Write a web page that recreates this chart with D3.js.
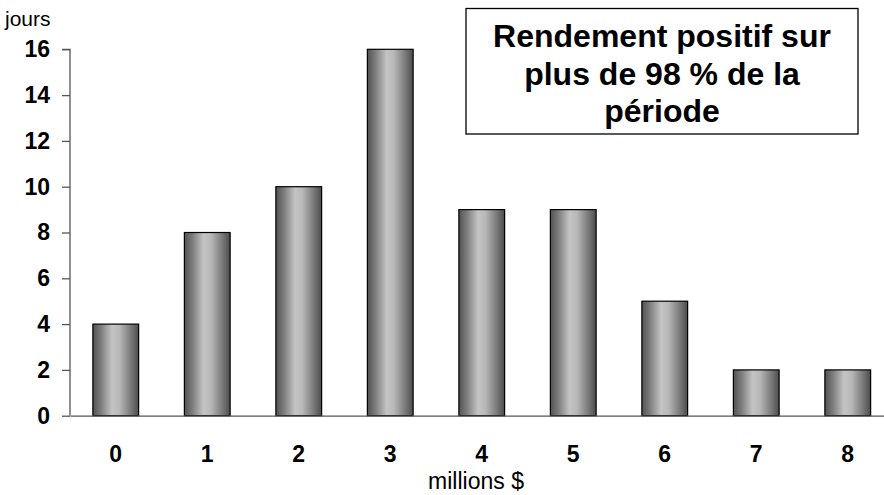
<!DOCTYPE html>
<html>
<head>
<meta charset="utf-8">
<script src="https://cdn.jsdelivr.net/npm/d3@7"></script>
<style>
html,body{margin:0;padding:0;background:#fff;}
svg{display:block;font-family:"Liberation Sans",Arial,sans-serif;}
</style>
</head>
<body>
<svg id="chart" width="884" height="495"></svg>
<script>
const categories = ["0","1","2","3","4","5","6","7","8"];
const values = [4, 8, 10, 16, 9, 9, 5, 2, 2];
const yTicks = [0, 2, 4, 6, 8, 10, 12, 14, 16];
const yTitle = "jours";
const xTitle = "millions $";
const titleLines = ["Rendement positif sur", "plus de 98 % de la", "période"];

(function () {
const svg = d3.select("#chart");
const mLeft = 70, mRight = 893.5, mTop = 49.3, mBottom = 415.7;

const x = d3.scaleBand().domain(categories).range([mLeft, mRight]).paddingInner(0.5).paddingOuter(0.25);
const y = d3.scaleLinear().domain([0, 16]).range([mBottom, mTop]);

const defs = svg.append("defs");
const grad = defs.append("linearGradient").attr("id","barGrad").attr("x1","0").attr("x2","1").attr("y1","0").attr("y2","0");
[[0,"#525252"],[0.18,"#7e7e7e"],[0.42,"#c4c4c4"],[0.58,"#b8b8b8"],[0.85,"#747474"],[1,"#4c4c4c"]]
  .forEach(([o,c]) => grad.append("stop").attr("offset",o).attr("stop-color",c));

// bars
svg.append("g").selectAll("rect").data(values).join("rect")
  .attr("x", (d,i) => x(categories[i]))
  .attr("y", d => y(d))
  .attr("width", x.bandwidth())
  .attr("height", d => y(0) - y(d))
  .attr("fill", "url(#barGrad)")
  .attr("stroke", "#000")
  .attr("stroke-width", 1.2);

// y axis
const yAxis = svg.append("g").attr("transform", `translate(${mLeft},0)`)
  .call(d3.axisLeft(y).tickValues(yTicks).tickSize(8).tickPadding(12).tickFormat(d3.format("d")));
yAxis.select(".domain").attr("stroke","#555").attr("stroke-width",1.3).attr("d", `M-8,${mTop}H0V${mBottom}`);
yAxis.selectAll(".tick line").attr("stroke","#555").attr("stroke-width",1.3);
yAxis.selectAll(".tick text").attr("font-size",23).attr("font-weight","bold").attr("fill","#000")
  .attr("font-family","Liberation Sans, Arial, sans-serif");

// x axis
const xAxis = svg.append("g").attr("transform", `translate(0,${mBottom})`)
  .call(d3.axisBottom(x).tickSize(0).tickPadding(30));
xAxis.select(".domain").attr("stroke","#555").attr("stroke-width",1.3);
xAxis.selectAll(".tick text").attr("font-size",23).attr("font-weight","bold").attr("fill","#000")
  .attr("font-family","Liberation Sans, Arial, sans-serif");

// axis titles
svg.append("text").attr("x", 5).attr("y", 26).attr("font-size", 21).text(yTitle);
svg.append("text").attr("x", 476).attr("y", 489).attr("text-anchor","middle").attr("font-size", 23).text(xTitle);

// title box
svg.append("rect").attr("x", 466).attr("y", 8.5).attr("width", 392).attr("height", 125.5)
  .attr("fill","#fff").attr("stroke","#000").attr("stroke-width",1.3);
svg.append("g").selectAll("text").data(titleLines).join("text")
  .attr("x", 662).attr("y", (d,i) => 47 + i*37.5)
  .attr("text-anchor","middle").attr("font-size", 32).attr("font-weight","bold")
  .text(d => d);
})();
</script>
</body>
</html>
